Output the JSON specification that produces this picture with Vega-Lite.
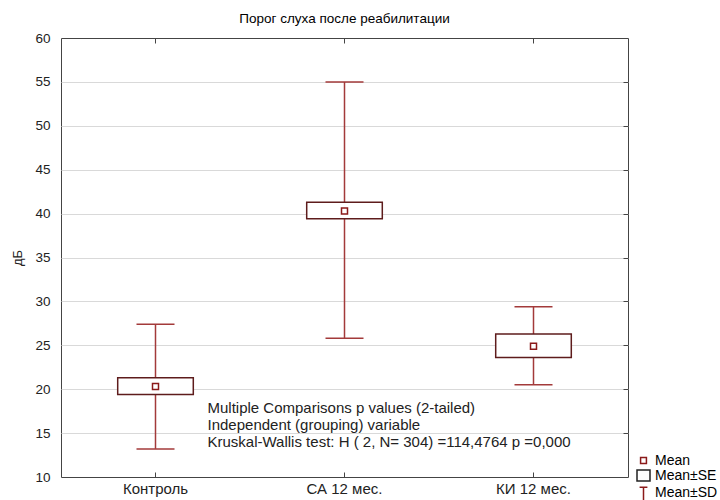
{
  "$schema": "https://vega.github.io/schema/vega-lite/v6.json",
  "width": 567,
  "height": 439,
  "autosize": {"type": "none"},
  "padding": {"left": 61, "top": 38, "right": 92, "bottom": 23},
  "background": "white",
  "title": {"text": "Порог слуха после реабилитации", "fontSize": 13.5, "font": "Liberation Sans", "fontWeight": "normal", "color": "#000000", "offset": 6, "anchor": "middle"},
  "config": {
    "view": {"stroke": "#444444", "strokeWidth": 1},
    "font": "Liberation Sans",
    "axis": {"labelFont": "Liberation Sans", "labelFontSize": 13, "labelColor": "#222222", "titleFont": "Liberation Sans", "titleFontWeight": "normal", "titleColor": "#222222", "titleFontSize": 13, "domain": false, "tickColor": "#444444"}
  },
  "data": {"values": [
    {"group": "Контроль", "mean": 20.3, "seLow": 19.4, "seHigh": 21.3, "sdLow": 13.2, "sdHigh": 27.4},
    {"group": "СА 12 мес.", "mean": 40.3, "seLow": 39.4, "seHigh": 41.3, "sdLow": 25.8, "sdHigh": 55.0},
    {"group": "КИ 12 мес.", "mean": 24.9, "seLow": 23.6, "seHigh": 26.3, "sdLow": 20.5, "sdHigh": 29.4}
  ]},
  "encoding": {
    "x": {"field": "group", "type": "nominal", "sort": null, "title": null, "axis": null,
      "scale": {"type": "band", "domain": ["Контроль", "СА 12 мес.", "КИ 12 мес."], "paddingInner": 0, "paddingOuter": 0}}
  },
  "layer": [
    {
      "mark": {"type": "rule", "stroke": "#a33a3a", "strokeWidth": 1.5},
      "encoding": {
        "x": {"field": "group", "type": "nominal", "sort": null, "title": null,
          "axis": {"orient": "bottom", "labelAngle": 0, "tickSize": -5, "labelPadding": 9, "labelFontSize": 15, "grid": false}},
        "y": {"field": "sdLow", "type": "quantitative", "title": "дБ",
          "scale": {"domain": [10, 60], "nice": false, "zero": false},
          "axis": {"values": [10, 15, 20, 25, 30, 35, 40, 45, 50, 55, 60], "ticks": false, "labelPadding": 11, "labelFontSize": 13.5, "titlePadding": 10, "grid": true, "gridColor": "#d9d9d9", "gridWidth": 1,
            "gridOpacity": {"condition": {"test": "datum.value === 10 || datum.value === 60", "value": 0}, "value": 1}}},
        "y2": {"field": "sdHigh"}
      }
    },
    {
      "mark": {"type": "tick", "orient": "horizontal", "size": 38, "thickness": 1.5, "color": "#a33a3a", "opacity": 1},
      "encoding": {"y": {"field": "sdLow", "type": "quantitative", "axis": null}}
    },
    {
      "mark": {"type": "tick", "orient": "horizontal", "size": 38, "thickness": 1.5, "color": "#a33a3a", "opacity": 1},
      "encoding": {"y": {"field": "sdHigh", "type": "quantitative", "axis": null}}
    },
    {
      "mark": {"type": "bar", "fill": "white", "stroke": "#5e1c1c", "strokeWidth": 1.5, "width": {"band": 0.4}},
      "encoding": {
        "x": {"field": "group", "type": "nominal", "sort": null, "title": null,
          "axis": {"orient": "top", "labels": false, "tickSize": -5, "grid": false, "title": null}},
        "y": {"field": "seLow", "type": "quantitative", "title": null,
          "axis": {"orient": "right", "labels": false, "tickSize": -5, "grid": false, "title": null, "values": [15, 20, 25, 30, 35, 40, 45, 50, 55]}},
        "y2": {"field": "seHigh"}
      }
    },
    {
      "mark": {"type": "point", "shape": "square", "size": 36, "filled": false, "stroke": "#8b1a1a", "strokeWidth": 1.5, "opacity": 1},
      "encoding": {"y": {"field": "mean", "type": "quantitative", "axis": null}}
    },
    {
      "data": {"values": [
        {"group": "Контроль", "y": 18.6, "note": "Multiple Comparisons p values (2-tailed)\nIndependent (grouping) variable\nKruskal-Wallis test: H ( 2, N= 304) =114,4764 p =0,000"}
      ]},
      "mark": {"type": "text", "align": "left", "baseline": "top", "dx": 52, "fontSize": 15, "lineHeight": 17, "lineBreak": "\n", "color": "#222222", "font": "Liberation Sans"},
      "encoding": {
        "y": {"field": "y", "type": "quantitative", "axis": null},
        "text": {"field": "note", "type": "nominal"}
      }
    },
    {
      "data": {"values": [{"item": "Mean"}, {"item": "Mean±SE"}, {"item": "Mean±SD"}]},
      "mark": {"type": "point", "opacity": 0, "filled": false},
      "encoding": {
        "shape": {"field": "item", "type": "nominal",
          "scale": {"domain": ["Mean", "Mean±SE", "Mean±SD"], "range": ["M-0.45,-0.45H0.45V0.45H-0.45Z", "M-1,-0.85H1V0.85H-1Z", "M-0.6,-0.8H0.6M0,-0.8V1.3"]},
          "legend": {"title": null, "orient": "none", "legendX": 575, "legendY": 415, "symbolSize": 169, "symbolFillColor": "white", "symbolStrokeWidth": 1.5, "symbolOpacity": 1, "labelFontSize": 14, "labelFont": "Liberation Sans", "labelColor": "#000000", "rowPadding": -2, "labelOffset": 4, "padding": 0}},
        "stroke": {"field": "item", "type": "nominal",
          "scale": {"domain": ["Mean", "Mean±SE", "Mean±SD"], "range": ["#8b1a1a", "#222222", "#8b1a1a"]},
          "legend": null}
      }
    }
  ],
  "resolve": {"axis": {"x": "independent", "y": "independent"}}
}
